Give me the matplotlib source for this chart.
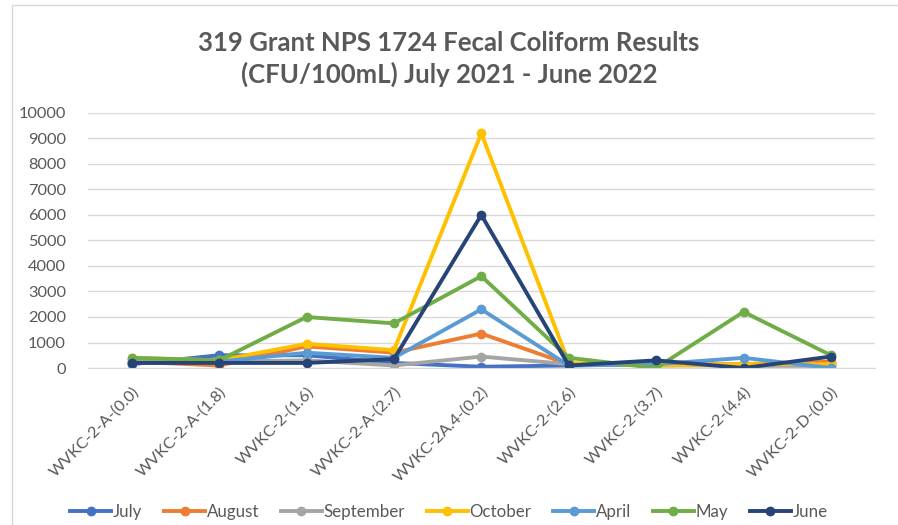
"""
319 Grant NPS 1724 fecal coliform results, line chart per month.
"""

import matplotlib
matplotlib.use('Agg')
import matplotlib.pyplot as plt
from matplotlib.patches import Rectangle

# ── Data ─────────────────────────────────────────────────────────────────────
sites = ["WVKC-2-A-(0.0)", "WVKC-2-A-(1.8)", "WVKC-2-(1.6)", "WVKC-2-A-(2.7)",
         "WVKC-2A.4-(0.2)", "WVKC-2-(2.6)", "WVKC-2-(3.7)", "WVKC-2-(4.4)",
         "WVKC-2-D-(0.0)"]

months = ["July", "August", "September", "October", "April", "May", "June"]

july      = [150, 500, 500, 200, 50, 100, 150, 100, 100]
august    = [250, 100, 850, 600, 1350, 150, 150, 150, 250]
september = [300, 250, 300, 100, 450, 150, 100, 100, 100]
october   = [400, 300, 950, 700, 9200, 200, 100, 150, 150]
april     = [200, 250, 600, 400, 2300, 100, 150, 400, 0]
may       = [400, 300, 2000, 1750, 3600, 400, 0, 2200, 500]
june      = [200, 200, 200, 350, 6000, 100, 300, 0, 450]

series = [july, august, september, october, april, may, june]
colors = ["#4472C4", "#ED7D31", "#A5A5A5", "#FFC000", "#5B9BD5", "#70AD47", "#264478"]

# ── Figure ───────────────────────────────────────────────────────────────────
plt.rcParams['font.family'] = ['Lato', 'DejaVu Sans']
TXT = "#595959"

fig = plt.figure(figsize=(8.98, 5.25), dpi=100)
fig.patch.set_facecolor("white")
ax = fig.add_axes([0.098, 0.299, 0.876, 0.486])

x = list(range(len(sites)))
for vals, name, c in zip(series, months, colors):
    ax.plot(x, vals, color=c, lw=2.8, marker="o", markersize=6,
            markeredgecolor=c, label=name)

ax.set_xlim(-0.5, len(sites) - 0.5)
ax.set_ylim(0, 10000)
ax.set_yticks(range(0, 10001, 1000))
ax.yaxis.grid(True, color="#D9D9D9", lw=1)
ax.set_axisbelow(True)
for s in ["top", "right", "left"]:
    ax.spines[s].set_visible(False)
ax.spines["bottom"].set_color("#D9D9D9")
ax.tick_params(axis="both", length=0, colors=TXT, labelsize=11.8)
ax.tick_params(axis="y", pad=16)
ax.set_xticks(x)
ax.set_xticklabels(sites, rotation=45, ha="right", va="top",
                   rotation_mode="anchor")
ax.tick_params(axis="x", pad=12)

fig.text(0.5, 0.887, "319 Grant NPS 1724 Fecal Coliform Results\n(CFU/100mL) July 2021 - June 2022",
         ha="center", va="center", fontsize=18.5, fontweight="bold", color=TXT,
         linespacing=1.3)

ax.legend(loc="center", bbox_to_anchor=(0.5, 0.0), bbox_transform=fig.transFigure,
          ncol=7, frameon=False, fontsize=12.2, labelcolor=TXT,
          handlelength=2.4, handletextpad=0.1, columnspacing=1.3)
leg = ax.get_legend()
leg.set_bbox_to_anchor((0.5, 0.025), transform=fig.transFigure)

# chart border
fig.add_artist(Rectangle((0.013, -0.05), 1.2, 1.04, transform=fig.transFigure,
                         fill=False, edgecolor="#D9D9D9", lw=1))

fig.savefig("out.png", dpi=100, facecolor="white")
plt.close(fig)
